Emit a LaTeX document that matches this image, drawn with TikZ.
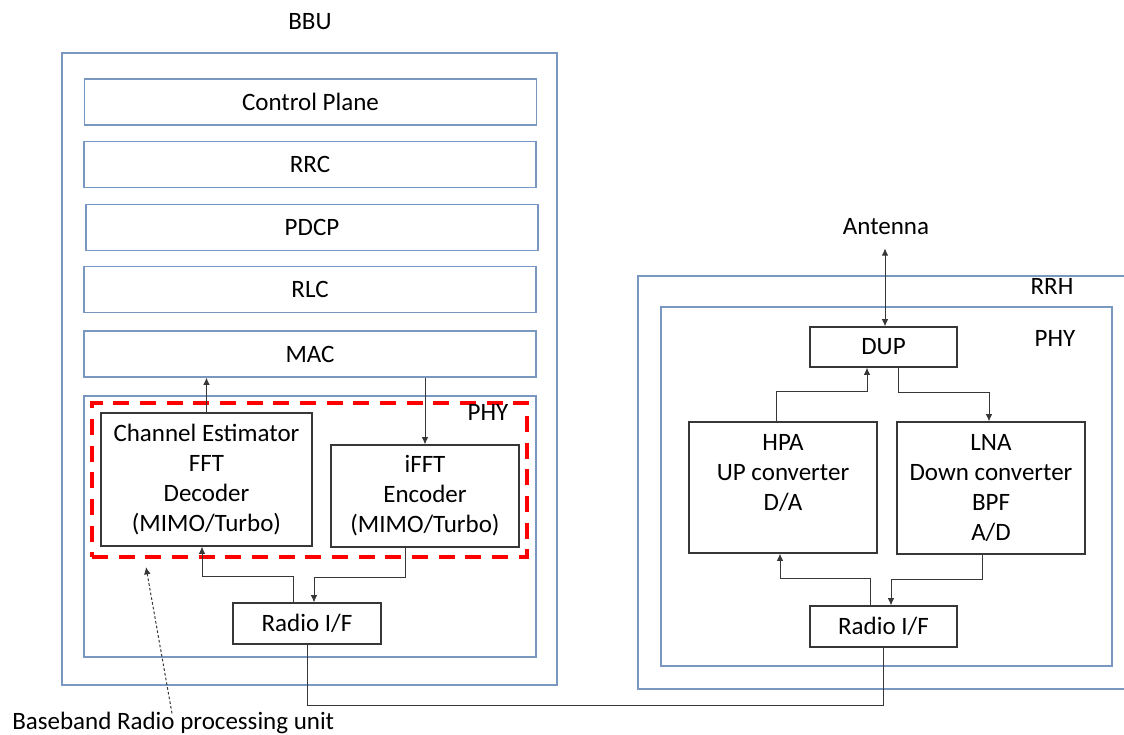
\documentclass[tikz,border=0pt]{standalone}
\usepackage{fontspec}
\setmainfont{Carlito}
\usetikzlibrary{arrows.meta,calc,positioning}
\definecolor{boxblue}{RGB}{120,152,194}
\definecolor{linegray}{RGB}{55,55,55}

\begin{document}
\begin{tikzpicture}[x=0.75pt,y=-0.75pt,
  font=\fontsize{18.75pt}{22.5pt}\selectfont,
  layer/.style={draw=boxblue,line width=0.9pt,inner sep=0pt,minimum width=339pt,minimum height=34.5pt},
  frame/.style={draw=boxblue,line width=0.9pt,inner sep=0pt},
  blk/.style={draw=linegray,line width=0.9pt,inner sep=0pt,align=center},
  lbl/.style={inner sep=0pt},
  sig/.style={draw=linegray,line width=0.75pt,-{Latex[length=5.5pt,width=5pt]}},
  hint/.style={sig,dash pattern=on 2pt off 1.6pt}]
  \clip (0,0) rectangle (1124,735);
% BBU section
  \node[lbl] (bbulbl) at (310,22) {BBU};
  \node[frame,minimum width=371.25pt,minimum height=474pt] (bbu) at (309.5,369) {};
  \node[layer] (cp) at (310.5,102) {Control Plane};
  \node[layer] (rrc) at (310,164.5) {RRC};
  \node[layer] (pdcp) at (312,227.5) {PDCP};
  \node[layer] (rlc) at (310,289.5) {RLC};
  \node[layer] (mac) at (310,354) {MAC};
  \node[frame,minimum width=339pt,minimum height=195.75pt] (phy) at (310,526.5) {};
  \node[draw=red,line width=3pt,dash pattern=on 12pt off 8pt,inner sep=0pt,
        minimum width=326.25pt,minimum height=115.5pt] (bbrp) at (309.5,480) {};
  \node[blk,minimum width=158.25pt,minimum height=99.75pt] (chest) at (206.5,479.5)
        {Channel Estimator\\FFT\\Decoder\\(MIMO/Turbo)};
  \node[blk,minimum width=141pt,minimum height=76.5pt] (ifft) at (425,496)
        {iFFT\\Encoder\\(MIMO/Turbo)};
  \node[lbl] (phylbl) at (488,412) {PHY};
  \node[blk,minimum width=111pt,minimum height=30.75pt] (radio1) at (307,623.5) {Radio I/F};
  \node[lbl,anchor=base west] (bbrulbl) at (12,729) {Baseband Radio processing unit};
%
% BBU signals
  \draw[sig] (chest.north) -- (chest.north |- mac.south);
  \draw[sig] (ifft.north |- mac.south) -- (ifft.north);
  \draw[sig] ($(radio1.north)+(-14,0)$) -- ++(0,-26) -| ($(chest.south)+(-4.5,0)$);
  \draw[sig] ($(ifft.south)+(-20,0)$) -- ++(0,30) -| ($(radio1.north)+(7,0)$);
  \draw[hint] ($(bbrulbl.north west)+(160,2)$) -- ($(bbrp.south west)+(56,8)$);
%
% RRH section
  \node[lbl] (antenna) at (886,227) {Antenna};
  \node[frame,minimum width=384pt,minimum height=309.75pt] (rrh) at (894,482.5) {};
  \node[lbl] (rrhlbl) at (1052,286) {RRH};
  \node[frame,minimum width=338.25pt,minimum height=269.25pt] (phy2) at (886.5,486.5) {};
  \node[lbl] (phy2lbl) at (1055,338) {PHY};
  \node[blk,minimum width=110.25pt,minimum height=30pt] (dup) at (883.5,347) {DUP};
  \node[blk,minimum width=141pt,minimum height=98.25pt] (hpa) at (783,487.5)
        {HPA\\UP converter\\D/A\\~};
  \node[blk,minimum width=141pt,minimum height=99pt] (lna) at (991,488)
        {LNA\\Down converter\\BPF\\A/D};
  \node[blk,minimum width=110.25pt,minimum height=30.75pt] (radio2) at (883.5,626.5) {Radio I/F};
%
% RRH signals
  \draw[sig,{Latex[length=5.5pt,width=5pt]}-{Latex[length=5.5pt,width=5pt]}]
        ($(dup.north)+(1.5,-78)$) -- ($(dup.north)+(1.5,0)$);
  \draw[sig] ($(hpa.north)+(-7,0)$) -- ++(0,-30) -| ($(dup.south)+(-16.5,0)$);
  \draw[sig] ($(dup.south)+(14.5,0)$) -- ++(0,25) -| ($(lna.north)+(-2,0)$);
  \draw[sig] ($(radio2.north)+(-13.5,0)$) -- ++(0,-27) -| ($(hpa.south)+(-3,0)$);
  \draw[sig] ($(lna.south)+(-9,0)$) -- ++(0,25) -| ($(radio2.north)+(7.5,0)$);
%
% fronthaul link
  \draw[draw=linegray,line width=0.75pt] (radio1.south) -- ++(0,61) -| (radio2.south);
\end{tikzpicture}
\end{document}
